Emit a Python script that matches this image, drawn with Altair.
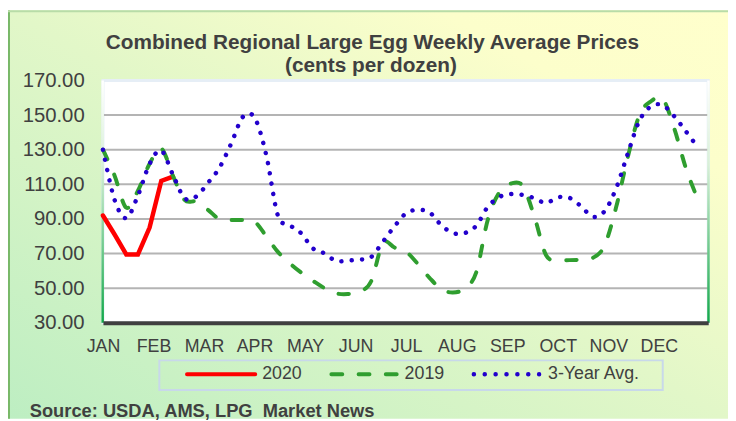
import altair as alt
import pandas as pd

# ---------------- data ----------------
MONTHS = ["JAN", "FEB", "MAR", "APR", "MAY", "JUN", "JUL", "AUG", "SEP", "OCT", "NOV", "DEC"]
WEEKS_PER_YEAR = 52
Y_TICKS = [30, 50, 70, 90, 110, 130, 150, 170]
GRID = [50, 70, 90, 110, 130, 150]

SERIES = ["2020", "2019", "3-Year Avg."]
COLORS = ["#ff0000", "#2f9e2f", "#2200cc"]

V2020 = [92, 81, 69.5, 69.5, 85, 112, 114.5]
V2019 = [130, 115, 96.5, 106.3, 121.9, 130.7, 115, 101, 100, 95.3,
         89.8, 89.4, 89.4, 88.5, 80, 71, 64.5, 59, 54.3, 50,
         47, 46.6, 48, 54, 76, 73.5, 71, 64, 56, 49.5,
         47.5, 49.8, 59, 89.5, 105.5, 110.5, 109, 91.2, 69, 66.3,
         66.2, 66.5, 67.5, 74.5, 96.7, 125.6, 150, 158, 159.5, 142,
         119, 101.5]
VAVG = [130, 101, 90.5, 103.5, 121.8, 129.5, 115.5, 102, 103, 110.8,
        119.7, 133.6, 149, 148.5, 127, 92, 86.5, 81.7, 73, 70.1,
        65.7, 66, 66.5, 68, 76.8, 85.7, 93.3, 95.3, 93.8, 86.5,
        81.9, 81.8, 86, 97, 102.7, 104.4, 103.9, 102, 99.2, 102.5,
        102.2, 97.3, 91.3, 94.4, 107.6, 127.7, 146.8, 155.1, 155.7, 149.2,
        140.5, 131.5]
VALUES = [V2020, V2019, VAVG]

TITLE_1 = "Combined Regional Large Egg Weekly Average Prices"
TITLE_2 = "(cents per dozen)"
SOURCE = "Source: USDA, AMS, LPG\u00a0 Market News"

# ---------------- style ----------------
FONT = "Liberation Sans"
TXT = "#404040"
W, H = 612, 245

month_pos = [i * WEEKS_PER_YEAR / 12 for i in range(12)]
month_arr = "[" + ",".join("'%s'" % m for m in MONTHS) + "]"
label_expr = month_arr + "[round(datum.value*12/%d)]" % WEEKS_PER_YEAR

xscale = alt.Scale(domain=[0, 51.9], nice=False, zero=False)
yscale = alt.Scale(domain=[30, 170], nice=False, zero=False)

x_axis = alt.Axis(values=month_pos, labelExpr=label_expr, title=None, grid=False,
                  ticks=False, domain=True, domainColor="#404040", domainWidth=4,
                  labelFont=FONT, labelFontSize=18, labelColor=TXT, labelPadding=15,
                  labelAngle=0, labelOverlap=False, labelFlush=False, labelBound=False,
                  zindex=2)
y_axis = alt.Axis(values=Y_TICKS, format=".2f", title=None, grid=False, ticks=False,
                  domain=False, labelFont=FONT, labelFontSize=20.5, labelColor=TXT,
                  labelPadding=19, labelOverlap=False, labelFlush=False, labelBound=False,
                  zindex=2)

one = pd.DataFrame({"a": [0]})

bg_grad = alt.LinearGradient(
    gradient="linear", x1=0, y1=1, x2=1, y2=0,
    stops=[alt.GradientStop(color="#bdeec2", offset=0),
           alt.GradientStop(color="#e2f7c8", offset=0.5),
           alt.GradientStop(color="#fcfecb", offset=0.8),
           alt.GradientStop(color="#ffffcc", offset=1)])
edge_grad = alt.LinearGradient(
    gradient="linear", x1=0, y1=0, x2=0, y2=1,
    stops=[alt.GradientStop(color="#ffffff", offset=0),
           alt.GradientStop(color="#d8f0d8", offset=0.35),
           alt.GradientStop(color="#12a84a", offset=1)])

layers = []
# background
layers.append(alt.Chart(one).mark_rect(fill=bg_grad).encode(
    x=alt.value(-96), x2=alt.value(632), y=alt.value(-71), y2=alt.value(342)))
layers.append(alt.Chart(one).mark_rule(color="#78b868", strokeWidth=2).encode(
    x=alt.value(-95), y=alt.value(-71), y2=alt.value(342)))
layers.append(alt.Chart(one).mark_rule(color="#b8dca8", strokeWidth=2).encode(
    x=alt.value(-96), x2=alt.value(632), y=alt.value(-70)))
# plot area
layers.append(alt.Chart(one).mark_rect(fill="white", stroke="#e6eef6", strokeWidth=3).encode(
    x=alt.value(0), x2=alt.value(W), y=alt.value(0), y2=alt.value(H)))
layers.append(alt.Chart(pd.DataFrame({"g": GRID})).mark_rule(color="#b4b4b4", strokeWidth=2).encode(
    y=alt.Y("g:Q", scale=yscale, axis=y_axis)))
layers.append(alt.Chart(one).mark_rect(fill=edge_grad).encode(
    x=alt.value(-1.5), x2=alt.value(1), y=alt.value(0), y2=alt.value(H)))
layers.append(alt.Chart(one).mark_rect(fill=edge_grad).encode(
    x=alt.value(W - 1), x2=alt.value(W + 1.5), y=alt.value(0), y2=alt.value(H)))

# data lines
line_styles = [
    dict(strokeWidth=4.5, strokeCap="round", interpolate="linear"),
    dict(strokeWidth=4, strokeCap="round", strokeDash=[10.5, 17], interpolate="cardinal"),
    dict(strokeWidth=4.5, strokeCap="round", strokeDash=[0.1, 10.4], interpolate="cardinal"),
]
for i in [0, 1, 2]:
    df = pd.DataFrame({"week": list(range(len(VALUES[i]))), "value": VALUES[i]})
    layers.append(alt.Chart(df).mark_line(color=COLORS[i], **line_styles[i]).encode(
        x=alt.X("week:Q", scale=xscale, axis=x_axis),
        y=alt.Y("value:Q", scale=yscale, axis=y_axis)))

# legend
layers.append(alt.Chart(one).mark_rect(fill="transparent", stroke="#c8d8ea", strokeWidth=2).encode(
    x=alt.value(57), x2=alt.value(566), y=alt.value(283), y2=alt.value(313)))
leg_sym = [(85, 154), (231, 297), (375, 441)]
leg_txt = [161, 305, 450]
leg_dash = [[1, 0], [11, 16.5], [0.1, 10.9]]
leg_w = [4, 4, 4.5]
for i in range(3):
    layers.append(alt.Chart(one).mark_rule(color=COLORS[i], strokeWidth=leg_w[i], strokeCap="round",
                                           strokeDash=leg_dash[i]).encode(
        x=alt.value(leg_sym[i][0]), x2=alt.value(leg_sym[i][1]), y=alt.value(297)))
    layers.append(alt.Chart(pd.DataFrame({"t": [SERIES[i]]})).mark_text(
        font=FONT, fontSize=18, color=TXT, align="left", baseline="middle").encode(
        text="t:N", x=alt.value(leg_txt[i]), y=alt.value(297)))

# titles and source
layers.append(alt.Chart(pd.DataFrame({"t": [TITLE_1]})).mark_text(
    font=FONT, fontSize=21, fontWeight="bold", color=TXT, align="center", baseline="alphabetic").encode(
    text="t:N", x=alt.value(272.4), y=alt.value(-31.7)))
layers.append(alt.Chart(pd.DataFrame({"t": [TITLE_2]})).mark_text(
    font=FONT, fontSize=21, fontWeight="bold", color=TXT, align="center", baseline="alphabetic").encode(
    text="t:N", x=alt.value(271), y=alt.value(-9)))
layers.append(alt.Chart(pd.DataFrame({"t": [SOURCE]})).mark_text(
    font=FONT, fontSize=18.5, fontWeight="bold", color=TXT, align="left", baseline="alphabetic").encode(
    text="t:N", x=alt.value(-74), y=alt.value(340)))

chart = alt.layer(*layers).properties(
    width=W, height=H,
    padding={"left": 96, "top": 71, "right": 20, "bottom": 97},
    autosize="none",
    background="white",
).configure_view(stroke=None)

chart.save("out.html", embed_options={"renderer": "svg", "actions": False})
